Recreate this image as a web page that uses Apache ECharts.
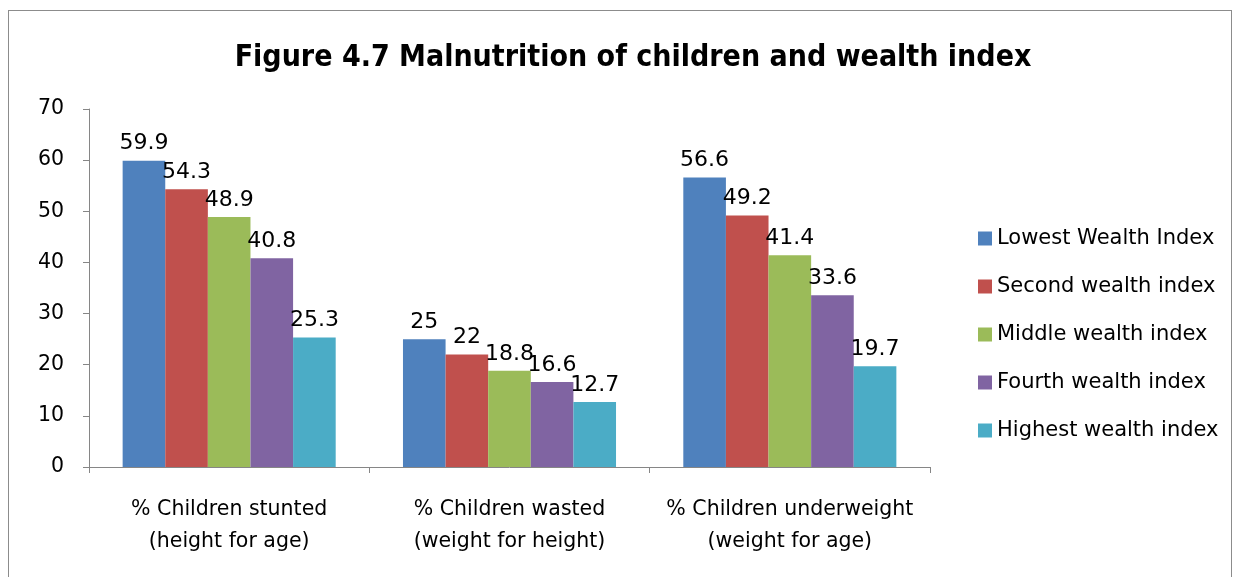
<!DOCTYPE html>
<html>
<head>
<meta charset="utf-8">
<script src="https://cdn.jsdelivr.net/npm/echarts@6/dist/echarts.min.js"></script>
<style>
  html, body { margin: 0; padding: 0; background: #fff; }
  #frame { position: absolute; left: 8px; top: 10px; width: 1222px; height: 580px; border: 1px solid #8c8c8c; border-bottom: none; }
  #chart { width: 1238px; height: 577px; }
</style>
</head>
<body>
<div id="frame"></div>
<div id="chart"></div>
<script>
// data
const categories = ['% Children stunted\n(height for age)', '% Children wasted\n(weight for height)', '% Children underweight\n(weight for age)'];
const seriesNames = ['Lowest Wealth Index', 'Second wealth index', 'Middle wealth index', 'Fourth wealth index', 'Highest wealth index'];
const lowest = [59.9, 25, 56.6];
const second = [54.3, 22, 49.2];
const middle = [48.9, 18.8, 41.4];
const fourth = [40.8, 16.6, 33.6];
const highest = [25.3, 12.7, 19.7];
const colors = ['#4F81BD', '#C0504D', '#9BBB59', '#8064A2', '#4BACC6'];

const font = 'DejaVu Sans, sans-serif';
const titleFont = 'DejaVu Sans Condensed, Liberation Sans, sans-serif';
const chart = echarts.init(document.getElementById('chart'));

const allValues = [lowest, second, middle, fourth, highest];

const option = {
  animation: false,
  title: {
    text: 'Figure 4.7 Malnutrition of children and wealth index',
    left: 628,
    textAlign: 'center',
    top: 38,
    textStyle: { fontFamily: titleFont, fontWeight: 'bold', fontSize: 30, color: '#000' }
  },
  legend: {
    orient: 'vertical',
    left: 973,
    top: 223,
    itemWidth: 14,
    itemHeight: 14,
    itemGap: 27,
    icon: 'rect',
    textStyle: { fontFamily: font, fontSize: 21, color: '#000' },
    data: seriesNames
  },
  grid: { left: 89, right: 308, top: 109, bottom: 110 },
  xAxis: {
    type: 'category',
    data: categories,
    axisLine: { lineStyle: { color: '#868686' } },
    axisTick: { show: true, length: 6, lineStyle: { color: '#868686' } },
    axisLabel: { interval: 0, fontFamily: font, fontSize: 20.5, color: '#000', margin: 27, lineHeight: 32 }
  },
  yAxis: {
    type: 'value',
    min: 0,
    max: 70,
    interval: 10,
    splitLine: { show: false },
    axisLine: { show: true, lineStyle: { color: '#868686' } },
    axisTick: { show: true, length: 6, lineStyle: { color: '#868686' } },
    axisLabel: { fontFamily: font, fontSize: 20.5, color: '#000', margin: 25 }
  },
  series: seriesNames.map((name, i) => ({
    name: name,
    type: 'bar',
    data: allValues[i],
    barGap: '0%',
    barCategoryGap: '24%',
    itemStyle: { color: colors[i] },
    label: {
      show: true,
      position: 'top',
      distance: 6,
      fontFamily: font,
      fontSize: 22,
      color: '#000'
    }
  }))
};

chart.setOption(option);
</script>
</body>
</html>
